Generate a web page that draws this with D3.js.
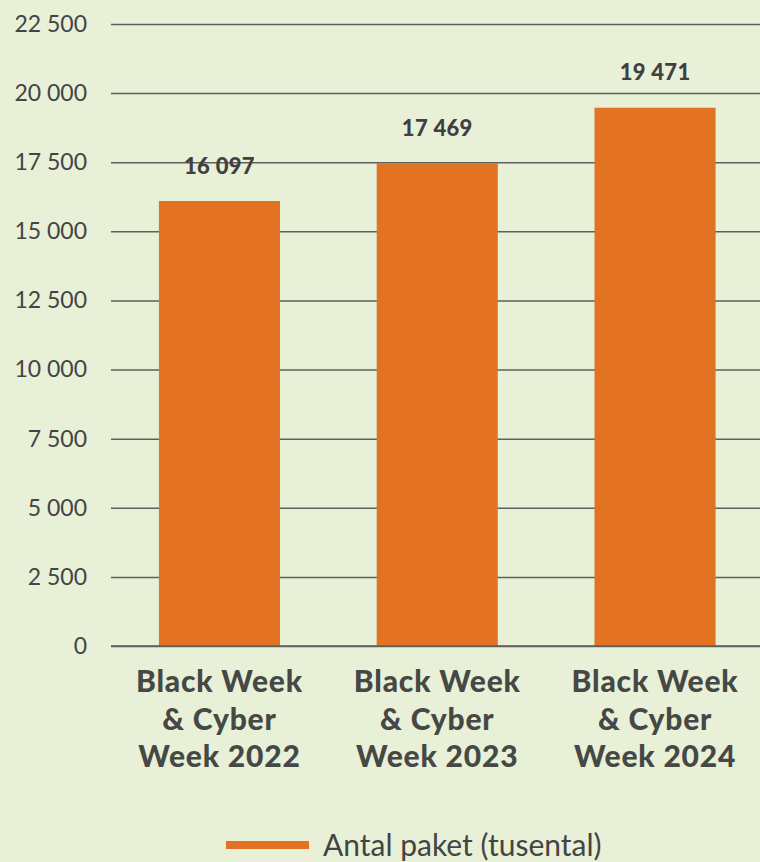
<!DOCTYPE html>
<html><head><meta charset="utf-8">
<script src="https://cdn.jsdelivr.net/npm/d3@7"></script>
<style>
html,body{margin:0;padding:0;background:#e8f0d8;}
svg{display:block;font-family:Lato,"Open Sans",sans-serif;}
</style></head><body>
<svg id="c" width="760" height="862"></svg>
<script>
const categories = [["Black Week","& Cyber","Week 2022"],["Black Week","& Cyber","Week 2023"],["Black Week","& Cyber","Week 2024"]];
const values = [16097, 17469, 19471];
const yTicks = [0,2500,5000,7500,10000,12500,15000,17500,20000,22500];
const seriesName = "Antal paket (tusental)";

const svg = d3.select("#c");
svg.append("rect").attr("width",760).attr("height",862).attr("fill","#e8f0d8");
const fmt = v => d3.format(",")(v).replace(/,/g," ");
const y = d3.scaleLinear().domain([0,22500]).range([646,24]);
const x = d3.scaleBand().domain(d3.range(values.length)).range([111,763.5]).paddingInner(0.444).paddingOuter(0.22);

const yAxis = svg.append("g").attr("transform","translate(111,0)")
  .call(d3.axisLeft(y).tickValues(yTicks).tickSize(-660).tickPadding(24).tickFormat(fmt));
yAxis.select(".domain").remove();
yAxis.selectAll(".tick line").attr("stroke","#5e605b").attr("stroke-width",1.5);
yAxis.selectAll(".tick text").attr("fill","#444").style("font-size","23px").style("font-family","Lato, sans-serif");

svg.append("g").selectAll("rect").data(values).join("rect")
  .attr("x",(d,i)=>x(i)).attr("width",x.bandwidth())
  .attr("y",d=>y(d)).attr("height",d=>y(0)-y(d)).attr("fill","#e37222");

svg.append("line").attr("x1",111).attr("x2",771).attr("y1",y(0)).attr("y2",y(0)).attr("stroke","#5e605b").attr("stroke-width",1.5);

svg.append("g").selectAll("text").data(values).join("text")
  .attr("x",(d,i)=>x(i)+x.bandwidth()/2).attr("y",d=>y(d)-27.5)
  .attr("text-anchor","middle").attr("fill","#404040")
  .style("font-size","22px").style("font-weight","900").style("letter-spacing","0.3px")
  .text(fmt);

const cat = svg.append("g").selectAll("text").data(categories).join("text")
  .attr("text-anchor","middle").attr("fill","#464845")
  .style("font-size","30px").style("font-weight","900").style("letter-spacing","0.8px");
cat.each(function(d,i){
  const t = d3.select(this);
  d.forEach((line,j)=>{
    t.append("tspan").attr("x",x(i)+x.bandwidth()/2).attr("y",692+j*37.5).text(line);
  });
});

svg.append("line").attr("x1",226).attr("x2",309).attr("y1",845).attr("y2",845).attr("stroke","#e37222").attr("stroke-width",8);
svg.append("text").attr("x",323).attr("y",856).attr("fill","#444").style("font-size","30px").text(seriesName);
</script>
</body></html>
